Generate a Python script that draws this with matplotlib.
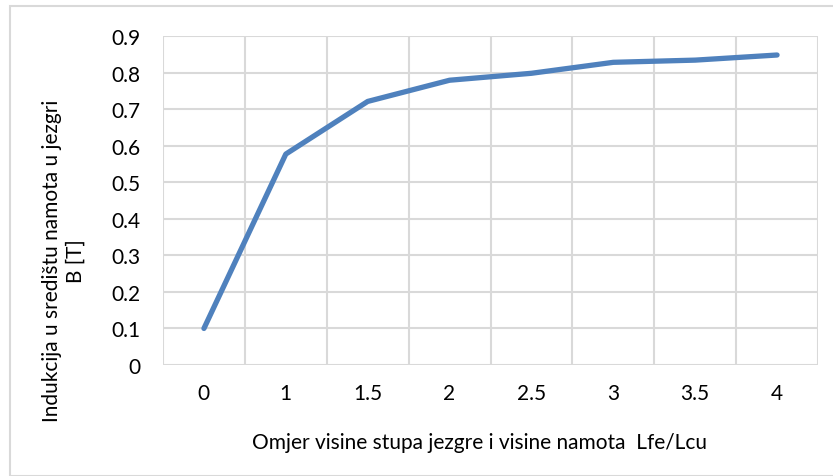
import matplotlib.pyplot as plt
from matplotlib.patches import Rectangle

# podaci s grafa
categories = ["0", "1", "1.5", "2", "2.5", "3", "3.5", "4"]
induction = [0.10, 0.577, 0.721, 0.779, 0.798, 0.828, 0.834, 0.848]
y_ticks = [0, 0.1, 0.2, 0.3, 0.4, 0.5, 0.6, 0.7, 0.8, 0.9]
y_labels = ["0", "0.1", "0.2", "0.3", "0.4", "0.5", "0.6", "0.7", "0.8", "0.9"]

plt.rcParams['font.family'] = ['Lato', 'DejaVu Sans']

W, H = 833, 477
FS = 15
fig = plt.figure(figsize=(W / 100, H / 100), dpi=100)

# okvir oko grafa (kao u Excelu)
fig.patches.append(Rectangle((10 / W, 0), 1, 1 - 7 / H, transform=fig.transFigure,
                             fill=False, edgecolor='#d9d9d9', linewidth=1.5))

left, right, top, bottom = 163, 818, 37, 366
ax = fig.add_axes([left / W, 1 - bottom / H, (right - left) / W, (bottom - top) / H])

x = list(range(len(categories)))
ax.plot(x, induction, color='#4f81bd', linewidth=3.8, solid_capstyle='round', solid_joinstyle='round')

ax.set_xlim(-0.5, len(categories) - 0.5)
ax.set_ylim(0, 0.9)
ax.set_yticks(y_ticks)
ax.set_yticklabels(y_labels)
ax.set_xticks(x)
ax.set_xticklabels(categories)
ax.set_xticks([i - 0.5 for i in range(len(categories) + 1)], minor=True)

ax.grid(False)
for yy in y_ticks:
    ax.axhline(yy, color='#d9d9d9', linewidth=1.5, zorder=0)
for xx in ax.get_xticks(minor=True):
    ax.axvline(xx, color='#d9d9d9', linewidth=1.5, zorder=0)

for s in ax.spines.values():
    s.set_visible(False)
ax.tick_params(which='both', length=0, labelsize=FS, colors='black')
ax.tick_params(axis='x', pad=13)
ax.tick_params(axis='y', pad=16.5)

fig.text(480 / W, 1 - 443 / H, "Omjer visine stupa jezgre i visine namota  Lfe/Lcu",
         fontsize=FS, ha='center', va='center')
fig.text(64 / W, 1 - 261 / H, "Indukcija u središtu namota u jezgri\nB [T]", fontsize=FS,
         rotation=90, ha='center', va='center', multialignment='center', linespacing=1.25)

fig.savefig("out.png", dpi=100, facecolor='white')
